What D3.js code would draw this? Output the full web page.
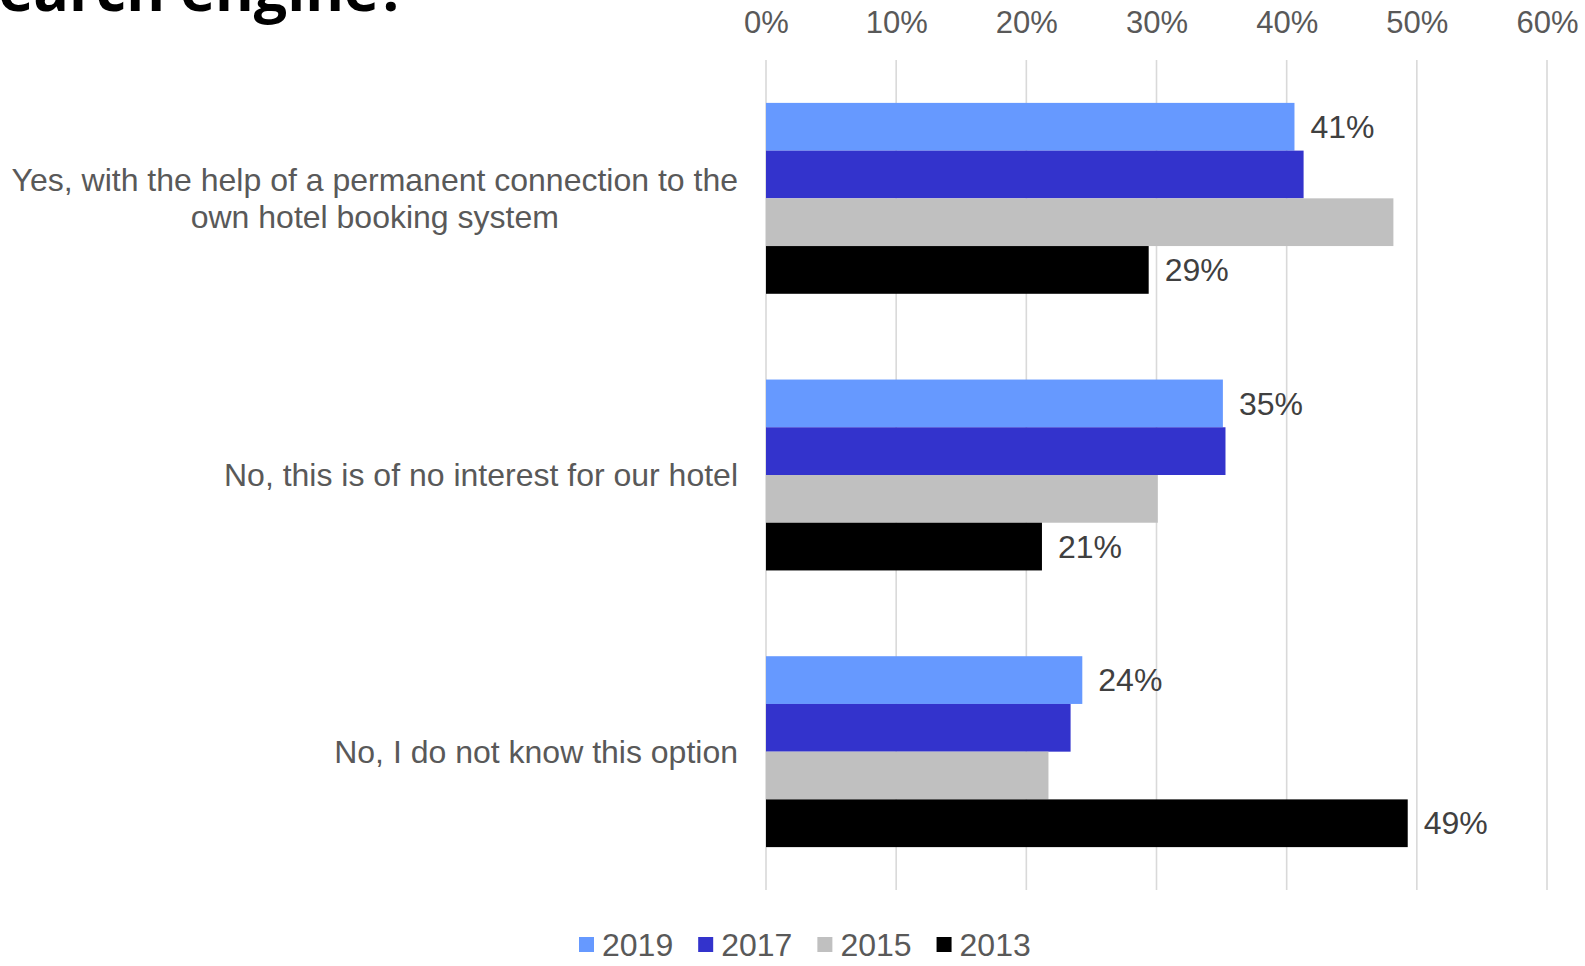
<!DOCTYPE html>
<html>
<head>
<meta charset="utf-8">
<script src="https://cdn.jsdelivr.net/npm/d3@7/dist/d3.min.js"></script>
<style>
  html, body { margin: 0; padding: 0; background: #fff; overflow: hidden; }
  svg { display: block; }
</style>
</head>
<body>
<svg id="chart" width="1585" height="966"></svg>
<script>
// Survey answers (percent of hotels), one array per survey year
const categories = [
  ["Yes, with the help of a permanent connection to the", "own hotel booking system"],
  ["No, this is of no interest for our hotel"],
  ["No, I do not know this option"]
];
const years = ["2019", "2017", "2015", "2013"];
const values2019 = [40.6, 35.1, 24.3];
const values2017 = [41.3, 35.3, 23.4];
const values2015 = [48.2, 30.1, 21.7];
const values2013 = [29.4, 21.2, 49.3];
const xTicks = [0, 10, 20, 30, 40, 50, 60];
const labelledYears = ["2019", "2013"];

const colors = { "2019": "#6699FF", "2017": "#3333CC", "2015": "#C0C0C0", "2013": "#000000" };
const seriesValues = { "2019": values2019, "2017": values2017, "2015": values2015, "2013": values2013 };

const svg = d3.select("#chart");
const font = "'Liberation Sans', Arial, sans-serif";

const plotLeft = 766, plotRight = 1547, plotTop = 60, plotBottom = 890;

const x = d3.scaleLinear().domain([0, 60]).range([plotLeft, plotRight]);
const y = d3.scaleBand()
  .domain(d3.range(categories.length))
  .range([plotTop, plotBottom])
  .paddingInner(0.31)
  .paddingOuter(0.155);
const ySub = d3.scaleBand().domain(years).range([0, y.bandwidth()]);

// Heading (runs off the top edge)
svg.append("text")
  .attr("x", 407).attr("y", 11)
  .attr("text-anchor", "end")
  .style("font-family", "'Open Sans', sans-serif")
  .style("font-weight", 700)
  .style("font-size", "59px")
  .attr("fill", "#000")
  .text("search engine?");

// Vertical gridlines
svg.append("g")
  .selectAll("line")
  .data(xTicks)
  .join("line")
  .attr("x1", d => x(d)).attr("x2", d => x(d))
  .attr("y1", plotTop).attr("y2", plotBottom)
  .attr("stroke", "#d9d9d9")
  .attr("stroke-width", 1.6);

// Top axis labels
const axis = svg.append("g")
  .attr("transform", `translate(0, ${plotTop - 27})`)
  .call(d3.axisTop(x).tickValues(xTicks).tickFormat(d => d + "%").tickSize(0).tickPadding(0));
axis.select(".domain").remove();
axis.selectAll("text")
  .style("font-family", font)
  .style("font-size", "31px")
  .attr("fill", "#595959")
  .attr("dy", 0);

// Bars
const groups = svg.append("g")
  .selectAll("g")
  .data(categories.map((c, i) => i))
  .join("g")
  .attr("transform", i => `translate(0, ${y(i)})`);

groups.selectAll("rect")
  .data(i => years.map(yr => ({ yr, v: seriesValues[yr][i] })))
  .join("rect")
  .attr("x", x(0))
  .attr("y", d => ySub(d.yr))
  .attr("width", d => x(d.v) - x(0))
  .attr("height", ySub.bandwidth())
  .attr("fill", d => colors[d.yr]);

// Value labels
groups.selectAll("text.value")
  .data(i => labelledYears.map(yr => ({ yr, v: seriesValues[yr][i] })))
  .join("text")
  .attr("class", "value")
  .attr("x", d => x(d.v) + 16)
  .attr("y", d => ySub(d.yr) + ySub.bandwidth() / 2)
  .attr("dy", "0.35em")
  .style("font-family", font)
  .style("font-size", "32px")
  .attr("fill", "#404040")
  .text(d => d3.format(".0f")(d.v) + "%");

// Category labels: block right-aligned, lines centred on each other
const catRight = 738, lineH = 37;
categories.forEach((lines, i) => {
  const g = svg.append("g");
  const cy = y(i) + y.bandwidth() / 2;
  const texts = lines.map((ln, k) => g.append("text")
    .attr("y", cy + (k - (lines.length - 1) / 2) * lineH)
    .attr("dy", "0.35em")
    .attr("text-anchor", "middle")
    .style("font-family", font)
    .style("font-size", "32px")
    .attr("fill", "#595959")
    .text(ln));
  const maxW = d3.max(texts, t => t.node().getComputedTextLength());
  texts.forEach(t => t.attr("x", catRight - maxW / 2));
});

// Legend
const legend = svg.append("g").attr("transform", "translate(579, 945)");
let lx = 0;
years.forEach(yr => {
  const item = legend.append("g").attr("transform", `translate(${lx}, 0)`);
  item.append("rect")
    .attr("x", 0).attr("y", -8)
    .attr("width", 15).attr("height", 15)
    .attr("fill", colors[yr]);
  const t = item.append("text")
    .attr("x", 23).attr("y", 0)
    .attr("dy", "0.35em")
    .style("font-family", font)
    .style("font-size", "32px")
    .attr("fill", "#595959")
    .text(yr);
  lx += 23 + t.node().getComputedTextLength() + 25;
});
</script>
</body>
</html>
